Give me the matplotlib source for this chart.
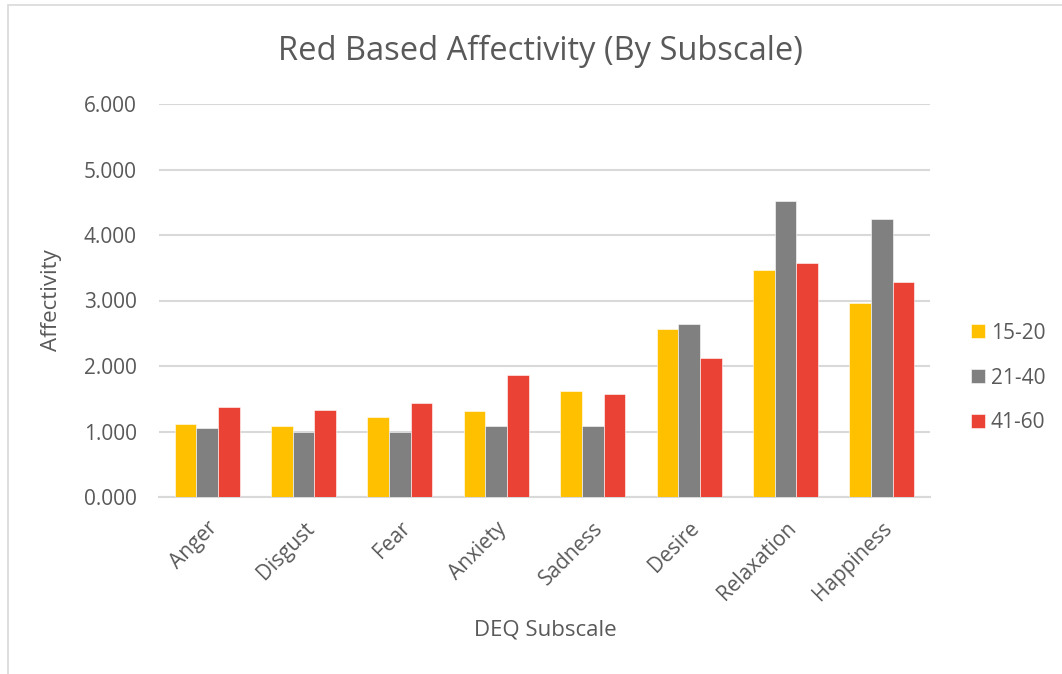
import matplotlib
matplotlib.use("Agg")
import matplotlib.pyplot as plt
import numpy as np
from matplotlib.patches import Rectangle

subscales = ["Anger", "Disgust", "Fear", "Anxiety", "Sadness", "Desire", "Relaxation", "Happiness"]
age_groups = ["15-20", "21-40", "41-60"]
age_15_20 = [1.12, 1.08, 1.22, 1.31, 1.62, 2.57, 3.47, 2.96]
age_21_40 = [1.05, 1.00, 1.00, 1.09, 1.08, 2.64, 4.52, 4.25]
age_41_60 = [1.37, 1.33, 1.43, 1.86, 1.57, 2.12, 3.57, 3.28]
colors = ["#FFC000", "#808080", "#EA4335"]
yticks = [0, 1, 2, 3, 4, 5, 6]

TEXT = "#595959"
GRID = "#d9d9d9"

plt.rcParams["font.family"] = ["Open Sans", "DejaVu Sans"]

fig = plt.figure(figsize=(10.62, 6.74), dpi=100)
ax = fig.add_axes([159 / 1062, 1 - 497 / 674, 771 / 1062, 393 / 674])

x = np.arange(len(subscales))
w = 0.225
for i, (vals, lab) in enumerate(zip([age_15_20, age_21_40, age_41_60], age_groups)):
    ax.bar(x + (i - 1) * w, vals, width=w, color=colors[i], label=lab,
           edgecolor="white", linewidth=0.4, zorder=3)

ax.set_xlim(-0.5, len(subscales) - 0.5)
ax.set_ylim(0, 6)
ax.set_yticks(yticks)
ax.set_yticklabels([f"{v:.3f}" for v in yticks], fontsize=15, color=TEXT)
ax.set_xticks(x)
ax.set_xticklabels(subscales, rotation=45, ha="right", rotation_mode="anchor",
                   fontsize=15, color=TEXT)
ax.tick_params(axis="both", length=0)
ax.tick_params(axis="y", pad=16)
ax.tick_params(axis="x", pad=15)
ax.grid(axis="y", color=GRID, linewidth=1.5, zorder=0)
for s in ["top", "right", "left"]:
    ax.spines[s].set_visible(False)
ax.spines["bottom"].set_color(GRID)
ax.spines["bottom"].set_linewidth(1.5)

ax.set_ylabel("Affectivity", fontsize=16, color=TEXT, va="center")
ax.yaxis.set_label_coords((51 - 159) / 771, 0.5)
ax.set_xlabel("DEQ Subscale", fontsize=16, color=TEXT, va="center")
ax.xaxis.set_label_coords((545 - 159) / 771, (497 - 630) / 393)
fig.text(540 / 1062, 1 - 51 / 674, "Red Based Affectivity (By Subscale)",
         ha="center", va="center", fontsize=23.5, color=TEXT)

ax.legend(loc="center left", bbox_to_anchor=(952 / 1062, 1 - 378 / 674),
          bbox_transform=fig.transFigure, frameon=False, fontsize=15,
          labelcolor=TEXT, handlelength=0.67, handleheight=0.67,
          handletextpad=0.3, labelspacing=1.15)

# chart frame
fig.patches.append(Rectangle((8 / 1062, -0.01), 1.1, 1 - 5 / 674 + 0.01,
                             transform=fig.transFigure, fill=False,
                             edgecolor=GRID, linewidth=1.2))

fig.savefig("out.png", dpi=100, facecolor="white")
